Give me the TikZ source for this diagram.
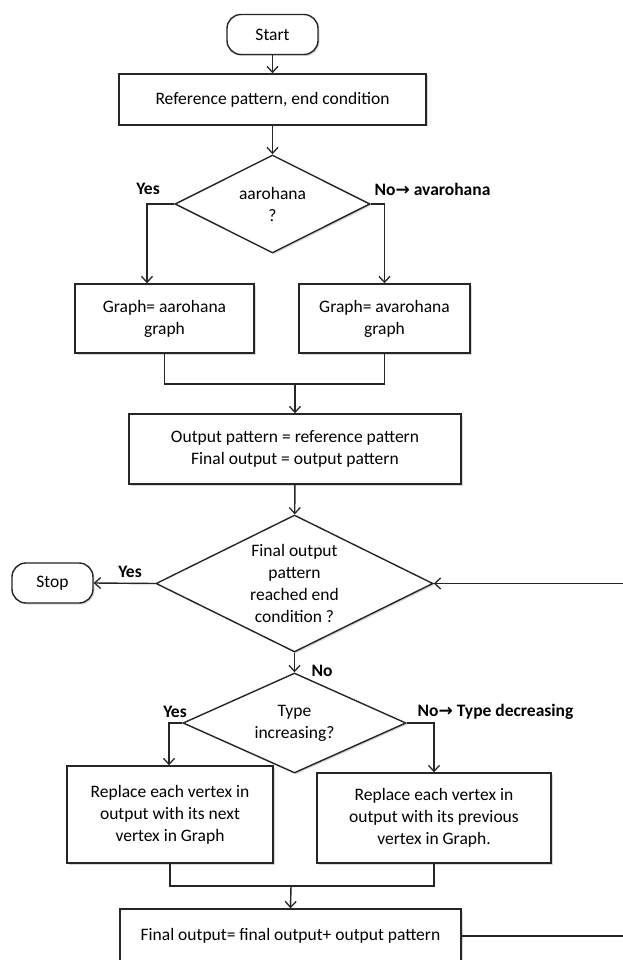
\documentclass[tikz,border=0pt]{standalone}
\usepackage{fontspec}
\setmainfont{Carlito}
\newfontfamily\symf{DejaVu Sans}
\usetikzlibrary{shapes.geometric,arrows.meta,shadows}
\begin{document}
\begin{tikzpicture}[x=1pt,y=-1pt,
  font=\fontsize{17.5}{22}\selectfont,
  line width=1.4pt,
  ln/.style={draw=black!85},
  arr/.style={ln,-{Straight Barb[length=6pt,width=11pt,line width=1.3pt]}},
  shad/.style={drop shadow={opacity=0.3,shadow xshift=1.5pt,shadow yshift=-1.5pt}},
  box/.style={draw=black!85,fill=white,rectangle,inner sep=0pt,align=center,shad},
  term/.style={box,rounded corners=14pt},
  dia/.style={draw=black!85,fill=white,diamond,inner sep=0pt,shad},
  lab/.style={font=\fontsize{17.5}{22}\selectfont\bfseries,inner sep=0pt}
]
\clip (0,0) rectangle (623,960);
\fill[white] (0,0) rectangle (623,960);

% nodes
\node[term,minimum width=91pt,minimum height=40pt] (start) at (272.5,34.5) {Start};
\node[box,minimum width=307pt,minimum height=51pt] (ref) at (272.5,99.5) {Reference pattern, end condition};
\node[dia,minimum width=195pt,minimum height=98pt,
  label={[align=center,inner sep=0pt]center:aarohana\\?}] (d1) at (272.5,204) {};
\node[box,minimum width=179pt,minimum height=69pt] (gA) at (164.5,318.5) {Graph= aarohana\\graph};
\node[box,minimum width=171pt,minimum height=69pt] (gB) at (384.5,318.5) {Graph= avarohana\\graph};
\node[box,minimum width=332pt,minimum height=70pt] (out) at (295,449) {Output pattern = reference pattern\\Final output = output pattern};
\node[dia,minimum width=277pt,minimum height=137pt,
  label={[align=center,inner sep=0pt]center:Final output\\pattern\\reached end\\condition ?}] (d2) at (294.5,583.5) {};
\node[term,minimum width=81pt,minimum height=40pt] (stop) at (52.5,583) {Stop};
\node[dia,minimum width=223pt,minimum height=100pt,
  label={[align=center,inner sep=0pt]center:Type\\increasing?}] (d3) at (294.5,723) {};
\node[box,minimum width=206pt,minimum height=97pt] (rA) at (170,814.5) {Replace each vertex in\\output with its next\\vertex in Graph};
\node[box,minimum width=234pt,minimum height=90pt] (rB) at (434,818) {Replace each vertex in\\output with its previous\\vertex in Graph.};
\node[box,minimum width=341pt,minimum height=54pt] (fin) at (290.5,936) {Final output= final output+ output pattern};

\coordinate (m1) at (295,384);
\coordinate (m2) at (291,886);
\coordinate (lp) at (640,760);

% connectors
\draw[arr] (start) -- (ref);
\draw[arr] (ref) -- (d1);
\draw[arr] (d1.west) -| ([xshift=-17.5pt]gA.north);
\draw[arr] (d1.east) -| (gB.north);
\draw[ln] (gA.south) |- (m1) -| (gB.south);
\draw[arr] (m1) -- (out.north);
\draw[arr] (out) -- (d2);
\draw[arr] (d2.west) -- (stop.east);
\draw[arr] (d2.south) -- (d3.north);
\draw[arr] (d3.west) -| ([xshift=-1pt]rA.north);
\draw[arr] (d3.east) -| (rB.north);
\draw[ln] (rA.south) |- (m2) -| (rB.south);
\draw[arr] (m2) -- (fin.north);
\draw[arr] (fin.east) -| (lp) |- (d2.east);

% labels
\node[lab] (y1) at (148,189) {Yes};
\node[lab,anchor=west] (n1) at (374,189) {No{\symf\fontsize{17}{17}\selectfont →} avarohana};
\node[lab] (y2) at (130,572) {Yes};
\node[lab,anchor=west] (n2) at (311,671) {No};
\node[lab] (y3) at (175,712) {Yes};
\node[lab,anchor=west] (n3) at (417,712) {No{\symf\fontsize{17}{17}\selectfont →} Type decreasing};
\end{tikzpicture}
\end{document}
